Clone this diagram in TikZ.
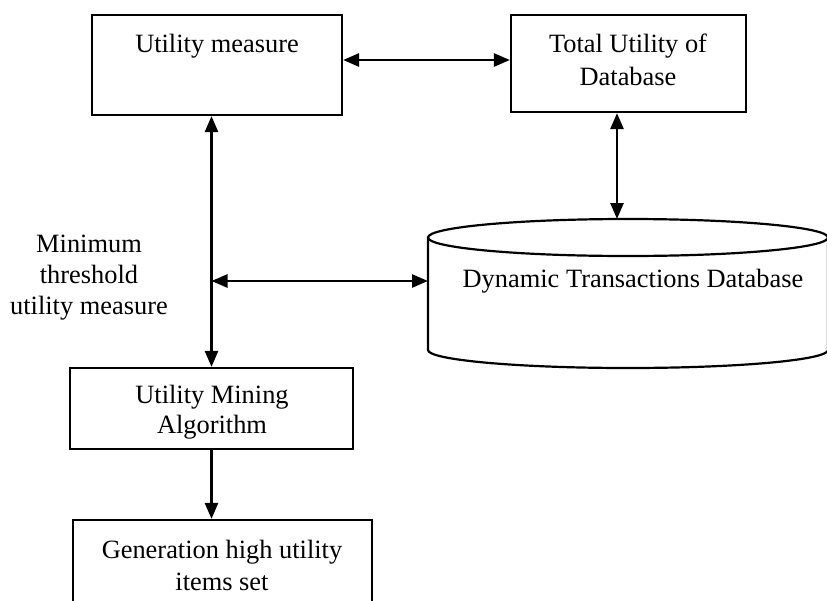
\documentclass[tikz,border=0pt]{standalone}
\usepackage{fontspec}
\setmainfont{Liberation Serif}
\usetikzlibrary{arrows.meta}
\begin{document}
\begin{tikzpicture}[x=1pt,y=-1pt,
  box/.style={draw, line width=2.2pt, inner sep=0pt},
  txt/.style={inner sep=0pt, align=center},
  fnt/.style={font=\fontsize{26.4}{#1}\selectfont},
  fnt/.default=31,
  tip/.style={},
  arr/.style={line width=2.6pt, -{Triangle[length=16pt,width=13pt]}},
  darr/.style={line width=2.6pt, {Triangle[length=16pt,width=13pt]}-{Triangle[length=16pt,width=13pt]}}]
\useasboundingbox (0,0) rectangle (827,600);
\clip (0,0) rectangle (827,600);

% boxes
\node[box, minimum width=250pt, minimum height=100pt] (um) at (217,65) {};
\node[txt, fnt, anchor=base] (umt) at (217,52) {Utility measure};

\node[box, minimum width=235pt, minimum height=97pt] (tu) at (628.5,63.5) {};
\node[txt, fnt=33] (tut) at (628,59.5) {Total Utility of\\Database};

\node[box, minimum width=283pt, minimum height=81pt] (umine) at (211.5,408.5) {};
\node[txt, fnt=30] (uminet) at (212,412) {Utility Mining\\Algorithm};

\node[box, minimum width=299pt, minimum height=95pt] (gen) at (222.5,567.5) {};
\node[txt, fnt=32] (gent) at (222,565) {Generation high utility\\items set};

\node[txt, fnt=31] (minl) at (89,278) {Minimum\\threshold\\utility measure};

% cylinder
\coordinate (dbtop) at (617,219);
\coordinate (dbw) at (428,281);
\coordinate (j) at (211.5,281);
\draw[line width=2.2pt] (628,237.5) ellipse [x radius=200, y radius=18.5];
\draw[line width=2.2pt] (428,237.5) -- (428,350)
  .. controls (428,359.9) and (517.5,368) .. (628,368)
  .. controls (738.5,368) and (828,359.9) .. (828,350) -- (828,237.5);
\node[txt, fnt, anchor=base] (dbt) at (633,287) {Dynamic Transactions Database};

% connectors
\draw[darr] ([yshift=5pt]um.east) -- ([yshift=5pt]um.east -| tu.west);
\draw[darr] ([xshift=-11.5pt]tu.south) -- ([xshift=-11.5pt]tu.south |- dbtop);
\draw[darr] (um.south -| umine.north) -- (umine.north);
\draw[darr] (j) -- (dbw);
\draw[arr] (umine.south) -- (umine.south |- gen.north);
\end{tikzpicture}
\end{document}
